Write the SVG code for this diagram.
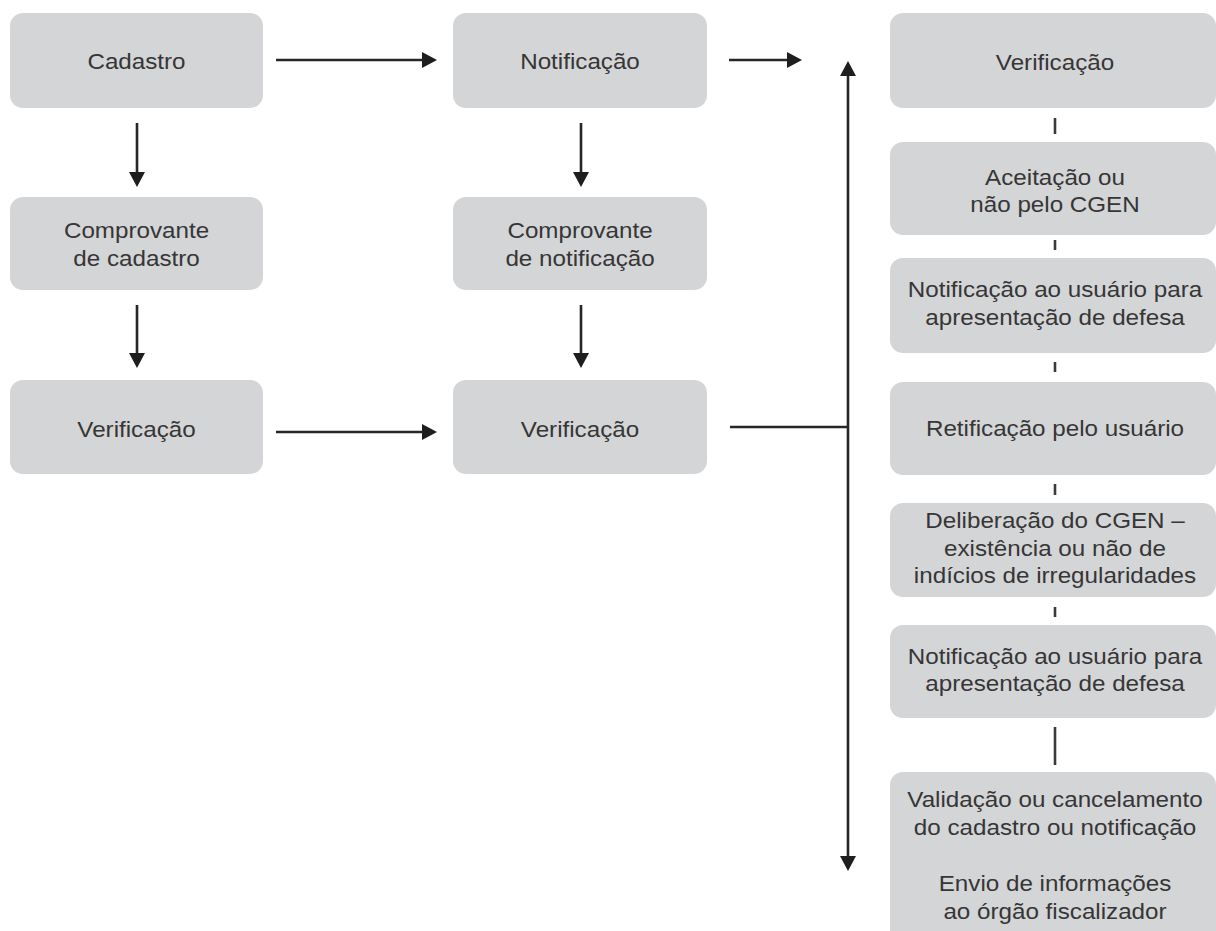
<svg xmlns="http://www.w3.org/2000/svg" width="1216" height="931" viewBox="0 0 1216 931">
  <style>
    .box { fill: #d4d5d7; }
    .lbl { font-family: "Liberation Sans", Arial, sans-serif; font-size: 22px; fill: #363636; text-anchor: middle; }
    .wire { stroke: #262626; stroke-width: 2.6; fill: none; }
    .tick { stroke: #3a3a3a; stroke-width: 2.6; fill: none; }
  </style>
  <defs>
    <marker id="head" markerUnits="userSpaceOnUse" markerWidth="18" markerHeight="16" refX="2" refY="8" orient="auto-start-reverse">
      <path d="M0,0 L15,8 L0,16 z" fill="#1e1e1e"/>
    </marker>
  </defs>

  <rect width="1216" height="931" fill="#ffffff"/>

  <!-- left column -->
  <g id="cadastro">
    <rect class="box" x="10" y="13" width="253" height="95" rx="13"/>
    <text class="lbl" transform="translate(136.5,69) scale(1.1,1)">Cadastro</text>
  </g>
  <g id="comprovante-cadastro">
    <rect class="box" x="10" y="197" width="253" height="93" rx="13"/>
    <text class="lbl" transform="translate(136.5,238) scale(1.1,1)">Comprovante</text>
    <text class="lbl" transform="translate(136.5,266) scale(1.1,1)">de cadastro</text>
  </g>
  <g id="verificacao-cadastro">
    <rect class="box" x="10" y="380" width="253" height="94" rx="13"/>
    <text class="lbl" transform="translate(136.5,437) scale(1.1,1)">Verificação</text>
  </g>

  <!-- middle column -->
  <g id="notificacao">
    <rect class="box" x="453" y="13" width="254" height="95" rx="13"/>
    <text class="lbl" transform="translate(580,69) scale(1.1,1)">Notificação</text>
  </g>
  <g id="comprovante-notificacao">
    <rect class="box" x="453" y="197" width="254" height="93" rx="13"/>
    <text class="lbl" transform="translate(580,238) scale(1.1,1)">Comprovante</text>
    <text class="lbl" transform="translate(580,266) scale(1.1,1)">de notificação</text>
  </g>
  <g id="verificacao-notificacao">
    <rect class="box" x="453" y="380" width="254" height="94" rx="13"/>
    <text class="lbl" transform="translate(580,437) scale(1.1,1)">Verificação</text>
  </g>

  <!-- right column -->
  <g id="verificacao">
    <rect class="box" x="890" y="13" width="326" height="95" rx="13"/>
    <text class="lbl" transform="translate(1055,70) scale(1.1,1)">Verificação</text>
  </g>
  <g id="aceitacao">
    <rect class="box" x="890" y="142" width="326" height="93" rx="13"/>
    <text class="lbl" transform="translate(1055,185) scale(1.1,1)">Aceitação ou</text>
    <text class="lbl" transform="translate(1055,212) scale(1.1,1)">não pelo CGEN</text>
  </g>
  <g id="notificacao-defesa-1">
    <rect class="box" x="890" y="258" width="326" height="95" rx="13"/>
    <text class="lbl" transform="translate(1055,297) scale(1.1,1)">Notificação ao usuário para</text>
    <text class="lbl" transform="translate(1055,325) scale(1.1,1)">apresentação de defesa</text>
  </g>
  <g id="retificacao">
    <rect class="box" x="890" y="382" width="326" height="93" rx="13"/>
    <text class="lbl" transform="translate(1055,436) scale(1.1,1)">Retificação pelo usuário</text>
  </g>
  <g id="deliberacao">
    <rect class="box" x="890" y="503" width="326" height="94" rx="13"/>
    <text class="lbl" transform="translate(1055,528) scale(1.1,1)">Deliberação do CGEN –</text>
    <text class="lbl" transform="translate(1055,555.5) scale(1.1,1)">existência ou não de</text>
    <text class="lbl" transform="translate(1055,583) scale(1.1,1)">indícios de irregularidades</text>
  </g>
  <g id="notificacao-defesa-2">
    <rect class="box" x="890" y="625" width="326" height="93" rx="13"/>
    <text class="lbl" transform="translate(1055,664) scale(1.1,1)">Notificação ao usuário para</text>
    <text class="lbl" transform="translate(1055,691) scale(1.1,1)">apresentação de defesa</text>
  </g>
  <g id="validacao">
    <rect class="box" x="890" y="772" width="326" height="172" rx="13"/>
    <text class="lbl" transform="translate(1055,807) scale(1.1,1)">Validação ou cancelamento</text>
    <text class="lbl" transform="translate(1055,835) scale(1.1,1)">do cadastro ou notificação</text>
    <text class="lbl" transform="translate(1055,891) scale(1.1,1)">Envio de informações</text>
    <text class="lbl" transform="translate(1055,919) scale(1.1,1)">ao órgão fiscalizador</text>
  </g>

  <!-- connectors -->
  <g id="connectors">
    <line class="wire" x1="276" y1="60" x2="424" y2="60" marker-end="url(#head)"/>
    <line class="wire" x1="729" y1="60" x2="789" y2="60" marker-end="url(#head)"/>
    <line class="wire" x1="137" y1="123" x2="137" y2="174" marker-end="url(#head)"/>
    <line class="wire" x1="581" y1="123" x2="581" y2="174" marker-end="url(#head)"/>
    <line class="wire" x1="137" y1="305" x2="137" y2="355" marker-end="url(#head)"/>
    <line class="wire" x1="581" y1="305" x2="581" y2="355" marker-end="url(#head)"/>
    <line class="wire" x1="276" y1="432" x2="424" y2="432" marker-end="url(#head)"/>
    <line class="wire" x1="730" y1="427" x2="848" y2="427"/>
    <line class="wire" x1="848" y1="74" x2="848" y2="858" marker-start="url(#head)" marker-end="url(#head)"/>
    <line class="tick" x1="1055" y1="118" x2="1055" y2="134"/>
    <line class="tick" x1="1055" y1="240" x2="1055" y2="250"/>
    <line class="tick" x1="1055" y1="362" x2="1055" y2="372"/>
    <line class="tick" x1="1055" y1="484" x2="1055" y2="495"/>
    <line class="tick" x1="1055" y1="607" x2="1055" y2="617"/>
    <line class="tick" x1="1055" y1="727" x2="1055" y2="765"/>
  </g>
</svg>
